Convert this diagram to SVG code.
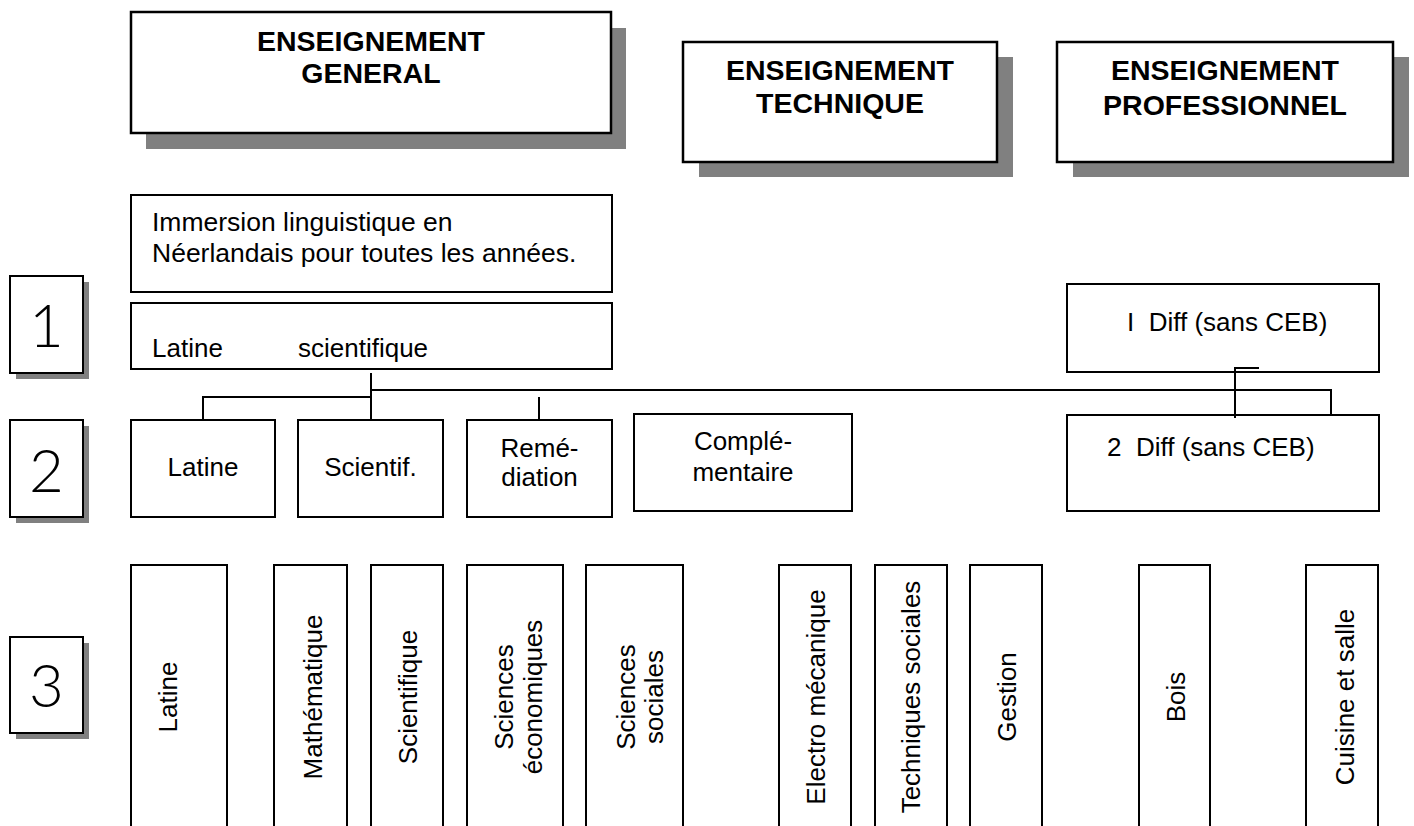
<svg xmlns="http://www.w3.org/2000/svg" width="1414" height="826" viewBox="0 0 1414 826">
<style>
.box{fill:#fff;stroke:#000;stroke-width:2}
.hbox{fill:#fff;stroke:#000;stroke-width:2.5}
.sh{fill:#808080}
.h{font-family:"Liberation Sans",Arial,sans-serif;font-weight:bold;font-size:28.5px;text-anchor:middle;fill:#000}
.t{font-family:"Liberation Sans",Arial,sans-serif;font-size:26px;fill:#000}
.ti{font-size:26.5px}
.c{text-anchor:middle}
.num{font-family:"Lato","DejaVu Sans",sans-serif;font-weight:300;font-size:60px;text-anchor:middle;fill:#000}
.ln{fill:none;stroke:#000;stroke-width:2}
</style>
<rect width="1414" height="826" fill="#fff"/>

<g id="general">
<rect class="sh" x="146" y="28" width="480" height="121"/>
<rect class="hbox" x="131" y="12" width="480" height="121"/>
<text class="h" x="371" y="51">ENSEIGNEMENT</text>
<text class="h" x="371" y="83">GENERAL</text>
</g>
<g id="technique">
<rect class="sh" x="699" y="57" width="314" height="120"/>
<rect class="hbox" x="683" y="42" width="314" height="120"/>
<text class="h" x="840" y="80">ENSEIGNEMENT</text>
<text class="h" x="840" y="113">TECHNIQUE</text>
</g>
<g id="professionnel">
<rect class="sh" x="1073" y="57" width="336" height="120"/>
<rect class="hbox" x="1057" y="42" width="336" height="120"/>
<text class="h" x="1225" y="80">ENSEIGNEMENT</text>
<text class="h" x="1225" y="115">PROFESSIONNEL</text>
</g>

<g id="annee1">
<rect class="sh" x="16" y="282" width="73" height="97"/>
<rect class="box" x="10" y="276" width="73" height="97"/>
<text class="num" x="46.5" y="347">1</text>
</g>
<g id="annee2">
<rect class="sh" x="16" y="426" width="73" height="97"/>
<rect class="box" x="10" y="420" width="73" height="97"/>
<text class="num" x="46.5" y="492">2</text>
</g>
<g id="annee3">
<rect class="sh" x="16" y="643" width="73" height="96"/>
<rect class="box" x="10" y="637" width="73" height="96"/>
<text class="num" x="46.5" y="707">3</text>
</g>

<g id="immersion">
<rect class="box" x="131" y="195" width="481" height="97"/>
<text class="t ti" x="152" y="231">Immersion linguistique en</text>
<text class="t ti" x="152" y="262">Néerlandais pour toutes les années.</text>
</g>
<g id="latine-scientifique">
<rect class="box" x="131" y="303" width="481" height="66"/>
<text class="t" x="152" y="357">Latine</text>
<text class="t" x="298" y="357">scientifique</text>
</g>
<g id="diff1">
<rect class="box" x="1067" y="284" width="312" height="88"/>
<text class="t" x="1127" y="331" xml:space="preserve">I  Diff (sans CEB)</text>
</g>

<g id="latine2">
<rect class="box" x="131" y="420" width="144" height="97"/>
<text class="t c" x="203" y="476">Latine</text>
</g>
<g id="scientif2">
<rect class="box" x="298" y="420" width="145" height="97"/>
<text class="t c" x="370.5" y="476">Scientif.</text>
</g>
<g id="remediation">
<rect class="box" x="467" y="420" width="145" height="97"/>
<text class="t c" x="539.5" y="457">Remé-</text>
<text class="t c" x="539.5" y="486">diation</text>
</g>
<g id="complementaire">
<rect class="box" x="634" y="414" width="218" height="97"/>
<text class="t c" x="743" y="450">Complé-</text>
<text class="t c" x="743" y="481">mentaire</text>
</g>
<g id="diff2">
<rect class="box" x="1067" y="415" width="312" height="96"/>
<text class="t" x="1107" y="456" xml:space="preserve">2  Diff (sans CEB)</text>
</g>

<g id="latine3">
<rect class="box" x="131" y="565" width="96" height="300"/>
<text class="t c" transform="translate(177 697) rotate(-90)">Latine</text>
</g>
<g id="mathematique3">
<rect class="box" x="274" y="565" width="73" height="300"/>
<text class="t c" transform="translate(322 697) rotate(-90)">Mathématique</text>
</g>
<g id="scientifique3">
<rect class="box" x="371" y="565" width="72" height="300"/>
<text class="t c" transform="translate(417 697) rotate(-90)">Scientifique</text>
</g>
<g id="eco3">
<rect class="box" x="467" y="565" width="96" height="300"/>
<text class="t c" transform="translate(513 697) rotate(-90)">Sciences</text>
<text class="t c" transform="translate(542 697) rotate(-90)">économiques</text>
</g>
<g id="sociales3">
<rect class="box" x="586" y="565" width="97" height="300"/>
<text class="t c" transform="translate(635 697) rotate(-90)">Sciences</text>
<text class="t c" transform="translate(663 697) rotate(-90)">sociales</text>
</g>
<g id="electro3">
<rect class="box" x="779" y="565" width="72" height="300"/>
<text class="t c" transform="translate(825 697) rotate(-90)">Electro mécanique</text>
</g>
<g id="techsoc3">
<rect class="box" x="875" y="565" width="72" height="300"/>
<text class="t c" transform="translate(920 697) rotate(-90)">Techniques sociales</text>
</g>
<g id="gestion3">
<rect class="box" x="970" y="565" width="72" height="300"/>
<text class="t c" transform="translate(1016 697) rotate(-90)">Gestion</text>
</g>
<g id="bois3">
<rect class="box" x="1139" y="565" width="71" height="300"/>
<text class="t c" transform="translate(1185 697) rotate(-90)">Bois</text>
</g>
<g id="cuisine3">
<rect class="box" x="1306" y="565" width="72" height="300"/>
<text class="t c" transform="translate(1354 697) rotate(-90)">Cuisine et salle</text>
</g>

<g id="connectors">
<path class="ln" d="M371 373 V420"/>
<path class="ln" d="M371 390 H1331 V415"/>
<path class="ln" d="M371 397 H203 V420"/>
<path class="ln" d="M539 397 V420"/>
<path class="ln" d="M1259 368 H1235 V418"/>
</g>
</svg>
